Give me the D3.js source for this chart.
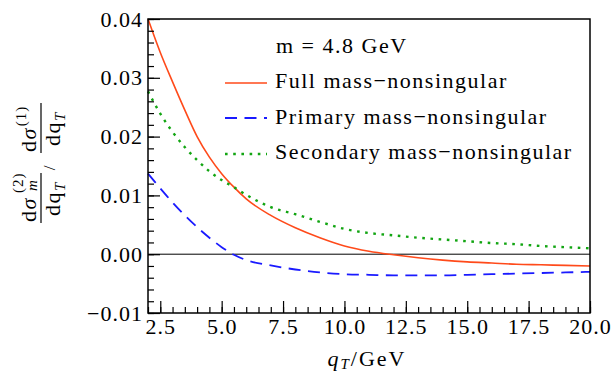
<!DOCTYPE html>
<html>
<head>
<meta charset="utf-8">
<script src="https://d3js.org/d3.v7.min.js"></script>
</head>
<body style="margin:0;background:#fff">
<svg width="613" height="374"></svg>
<script>
// values
const qT = [2, 2.5, 3, 3.5, 4, 4.5, 5, 5.5, 6, 7, 8, 9, 10, 11, 12, 13, 14, 15, 16, 17, 18, 19, 20];
const fullMass = [0.0400, 0.0343, 0.0293, 0.0245, 0.0200, 0.0165, 0.0137, 0.0114, 0.0094, 0.0066, 0.0045, 0.0028, 0.0014, 0.0005, -0.0001, -0.0006, -0.0010, -0.0013, -0.0015, -0.0017, -0.0018, -0.0019, -0.0020];
const primaryMass = [0.0137, 0.0112, 0.0088, 0.0066, 0.0046, 0.0028, 0.0012, -0.0001, -0.0010, -0.0019, -0.0026, -0.0031, -0.0034, -0.0035, -0.0036, -0.0036, -0.0036, -0.0035, -0.0034, -0.0033, -0.0032, -0.0031, -0.0030];
const secondaryMass = [0.0277, 0.0239, 0.0208, 0.0182, 0.0160, 0.0141, 0.0126, 0.0114, 0.0101, 0.0080, 0.0068, 0.0055, 0.0043, 0.0036, 0.0032, 0.0028, 0.0025, 0.0022, 0.0019, 0.0017, 0.0014, 0.0012, 0.0010];

const xTicks = [2.5, 5, 7.5, 10, 12.5, 15, 17.5, 20];
const yTicks = [-0.01, 0, 0.01, 0.02, 0.03, 0.04];
const series = [
  { name: 'Full mass\u2212nonsingular', values: fullMass, color: '#ff4a1a', dash: null, width: 1.6 },
  { name: 'Primary mass\u2212nonsingular', values: primaryMass, color: '#1a1aff', dash: '12,7.5', width: 1.8 },
  { name: 'Secondary mass\u2212nonsingular', values: secondaryMass, color: '#12a512', dash: '2.6,5.6', width: 2.4 }
];

const serif = 'Liberation Serif';
const plotL = 148, plotR = 590, plotT = 19, plotB = 313;
const svg = d3.select('svg');

const x = d3.scaleLinear().domain([2, 20]).range([plotL, plotR]);
const y = d3.scaleLinear().domain([-0.01, 0.04]).range([plotB, plotT]);

// zero line
svg.append('line')
  .attr('x1', plotL).attr('x2', plotR)
  .attr('y1', y(0)).attr('y2', y(0))
  .attr('stroke', '#000').attr('stroke-width', 1);

// curves
const line = d3.line()
  .x((d, i) => x(qT[i]))
  .y(d => y(d))
  .curve(d3.curveMonotoneX);

series.forEach(s => {
  svg.append('path')
    .attr('d', line(s.values))
    .attr('fill', 'none')
    .attr('stroke', s.color)
    .attr('stroke-width', s.width)
    .attr('stroke-dasharray', s.dash);
});

// axes with inward ticks
const xMinor = d3.range(2, 20.01, 0.5);
const yMinor = d3.range(-0.01, 0.0401, 0.002);
const tickText = g => g.selectAll('text')
  .style('font-family', serif).style('font-size', '22px').style('letter-spacing', '1px');

svg.append('g')
  .attr('transform', `translate(0,${plotB})`)
  .call(d3.axisBottom(x).tickValues(xMinor).tickSize(-6).tickFormat(''))
  .call(g => g.select('.domain').remove())
  .call(g => g.selectAll('line').attr('stroke-width', 1.2));

svg.append('g')
  .attr('transform', `translate(0,${plotB})`)
  .call(d3.axisBottom(x).tickValues(xTicks).tickSize(-12).tickPadding(5).tickFormat(d3.format('.1f')))
  .call(g => g.select('.domain').remove())
  .call(g => g.selectAll('line').attr('stroke-width', 1.2))
  .call(tickText);

svg.append('g')
  .attr('transform', `translate(${plotL},0)`)
  .call(d3.axisLeft(y).tickValues(yMinor).tickSize(-6).tickFormat(''))
  .call(g => g.select('.domain').remove())
  .call(g => g.selectAll('line').attr('stroke-width', 1.2));

svg.append('g')
  .attr('transform', `translate(${plotL},0)`)
  .call(d3.axisLeft(y).tickValues(yTicks).tickSize(-12).tickPadding(5).tickFormat(d3.format('.2f')))
  .call(g => g.select('.domain').remove())
  .call(g => g.selectAll('line').attr('stroke-width', 1.2))
  .call(tickText);

// frame
svg.append('rect')
  .attr('x', plotL).attr('y', plotT)
  .attr('width', plotR - plotL).attr('height', plotB - plotT)
  .attr('fill', 'none').attr('stroke', '#000').attr('stroke-width', 1.5);

// legend
const legendText = (px, py) => svg.append('text').attr('x', px).attr('y', py)
  .style('font-family', serif).style('font-size', '22px').style('letter-spacing', '1.5px');
legendText(276, 53).text('m = 4.8 GeV');
const legY = [83, 118, 154];
const legBase = [88, 124, 159];
series.forEach((s, i) => {
  svg.append('line')
    .attr('x1', 225).attr('x2', 267)
    .attr('y1', legY[i]).attr('y2', legY[i])
    .attr('stroke', s.color)
    .attr('stroke-width', s.width)
    .attr('stroke-dasharray', s.dash);
  legendText(275, legBase[i]).text(s.name);
});

// x label
const xl = svg.append('text')
  .attr('x', 367).attr('y', 366)
  .attr('text-anchor', 'middle')
  .style('font-family', serif).style('font-size', '22px').style('letter-spacing', '2px');
xl.append('tspan').style('font-style', 'italic').text('q');
xl.append('tspan').style('font-style', 'italic').style('font-size', '15px').attr('dy', 3).text('T');
xl.append('tspan').attr('dy', -3).text('/GeV');

// y label: fraction / fraction, rotated
const yl = svg.append('g').attr('transform', 'translate(41,166) rotate(-90)');
const fs = '22px', ss = '15px';
const txt = (px, py, size) => yl.append('text').attr('x', px).attr('y', py)
  .style('font-family', serif).style('font-size', size).style('letter-spacing', '1.5px');
// bars
yl.append('line').attr('x1', -57).attr('x2', -7).attr('y1', 0).attr('y2', 0).attr('stroke', '#000').attr('stroke-width', 1.2);
yl.append('line').attr('x1', 13).attr('x2', 63).attr('y1', 0).attr('y2', 0).attr('stroke', '#000').attr('stroke-width', 1.2);
// first numerator
const n1 = txt(-56, -5, fs);
n1.append('tspan').text('d');
n1.append('tspan').style('font-style', 'italic').text('\u03c3');
txt(-27, -18, ss).style('letter-spacing', '1px').text('(2)');
txt(-25, -4, ss).style('font-style', 'italic').text('m');
// first denominator
const d1 = txt(-50, 19, fs);
d1.append('tspan').text('dq');
d1.append('tspan').style('font-style', 'italic').style('font-size', ss).attr('dy', 5).text('T');
// slash
txt(-2, 14, '17px').attr('text-anchor', 'middle').style('letter-spacing', '0px').text('/');
// second numerator
const n2 = txt(14, -5, fs);
n2.append('tspan').text('d');
n2.append('tspan').style('font-style', 'italic').text('\u03c3');
n2.append('tspan').style('font-size', ss).style('letter-spacing', '1px').attr('dx', 1).attr('dy', -10).text('(1)');
// second denominator
const d2 = txt(20, 19, fs);
d2.append('tspan').text('dq');
d2.append('tspan').style('font-style', 'italic').style('font-size', ss).attr('dy', 5).text('T');
</script>
</body>
</html>
